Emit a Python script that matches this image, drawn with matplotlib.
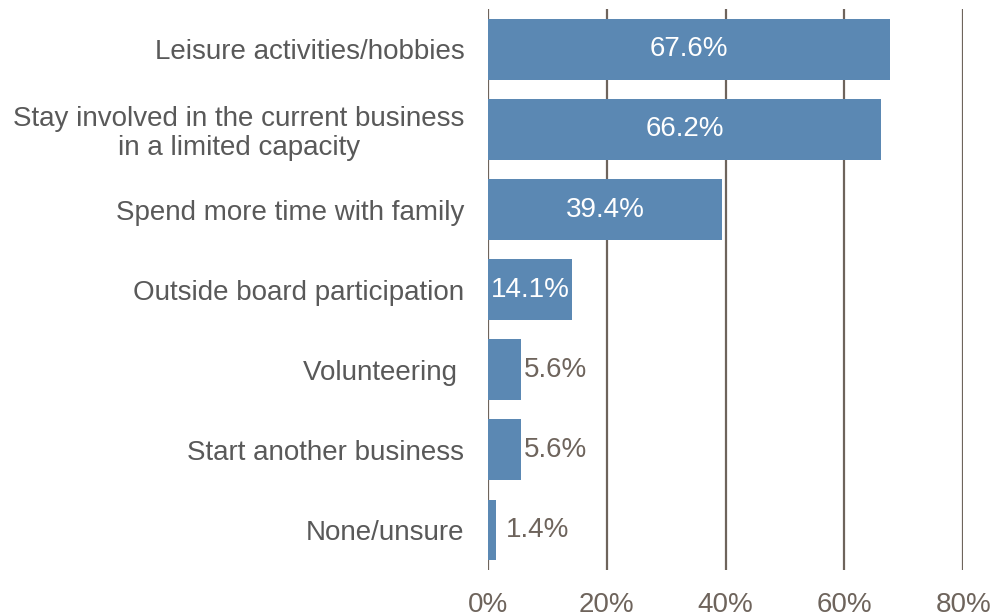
import matplotlib
matplotlib.use('Agg')
import matplotlib.pyplot as plt
import matplotlib.ticker as ticker

plt.rcParams['font.family'] = ['Liberation Sans', 'DejaVu Sans']

categories = [
    "Leisure activities/hobbies",
    "Stay involved in the current business\nin a limited capacity",
    "Spend more time with family",
    "Outside board participation",
    "Volunteering ",
    "Start another business",
    "None/unsure",
]
values = [67.6, 66.2, 39.4, 14.1, 5.6, 5.6, 1.4]
x_ticks = [0, 20, 40, 60, 80]

bar_color = '#5b88b3'
grid_color = '#6e645c'
label_color = '#595959'

fig = plt.figure(figsize=(9.94, 6.13), dpi=100)
ax = fig.add_axes([0.491, 0.070, 0.478, 0.915])

pos = list(range(len(categories)))
ax.barh(pos, values, height=0.76, color=bar_color, zorder=3)

ax.set_xlim(0, 80)
ax.set_ylim(len(categories) - 0.5, -0.5)
ax.set_xticks(x_ticks)
ax.xaxis.set_major_formatter(ticker.FuncFormatter(lambda v, p: f"{v:.0f}%"))
ax.set_yticks(pos)
ax.set_yticklabels(categories, fontsize=20, color=label_color, linespacing=1.15)
for t in ax.get_yticklabels():
    t.set_multialignment('center')
ax.tick_params(axis='y', length=0, pad=17)
ax.tick_params(axis='x', length=0, pad=16, labelsize=20, labelcolor=grid_color)

ax.grid(axis='x', color=grid_color, linewidth=1.6, zorder=1)
for s in ax.spines.values():
    s.set_visible(False)

for p, v in zip(pos, values):
    if v > 10:
        ax.text(v / 2, p, f"{v}%", ha='center', va='center',
                color='white', fontsize=20, zorder=4)
    else:
        ax.annotate(f"{v}%", (v, p), xytext=(1.5 if v > 3 else 7, 0),
                    textcoords='offset points', ha='left', va='center',
                    color=grid_color, fontsize=20, zorder=4)

fig.savefig('out.png', dpi=100)
